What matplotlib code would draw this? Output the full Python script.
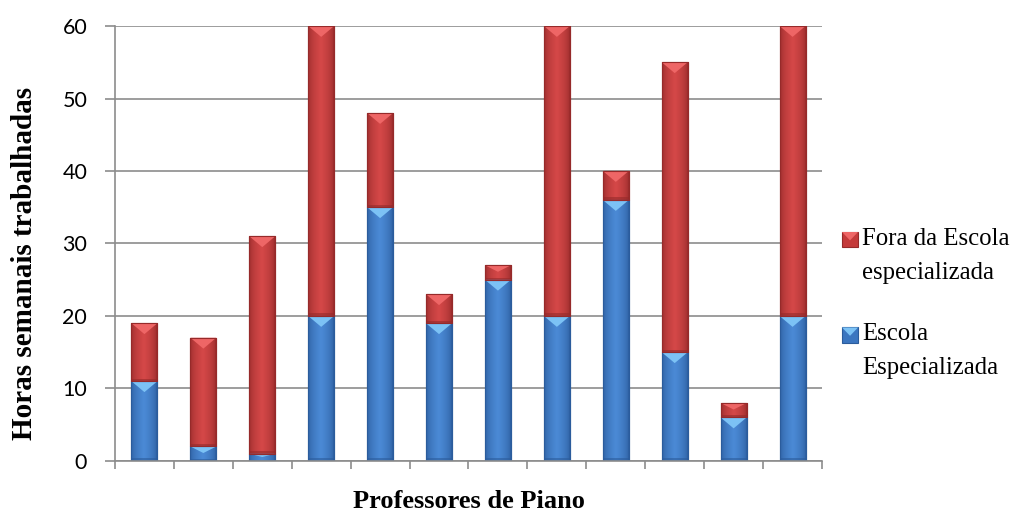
import numpy as np
import matplotlib
matplotlib.use("Agg")
import matplotlib.pyplot as plt
from matplotlib.patches import Rectangle, Polygon
from matplotlib.legend_handler import HandlerBase
from matplotlib.colors import to_rgb

# ---- data -------------------------------------------------------------
professores = list(range(1, 13))
escola_especializada = [11, 2, 1, 20, 35, 19, 25, 20, 36, 15, 6, 20]
fora_da_escola = [8, 15, 30, 40, 13, 4, 2, 40, 4, 40, 2, 40]
serie_labels = ["Fora da Escola\nespecializada", "Escola\nEspecializada"]
y_ticks = [0, 10, 20, 30, 40, 50, 60]

# ---- style ------------------------------------------------------------
BLUE = dict(edge="#2b5c9c", mid="#4b8ad6", top="#7cc2f5", base="#3b76c0")
RED = dict(edge="#962a2a", mid="#d54848", top="#ee6666", base="#c43a3a")
GRID = "#8c8c8c"
SERIF = "Liberation Serif"
LEGEND_SIZE = 17.8
LEGEND_LINESPACING = 1.70
HANDLE_LIFT = 11.6  # points, puts the legend square beside the first label line


def bevel(ax, patch, pal):
    """Shade a bar segment with a bevelled look."""
    x0, y0 = patch.get_x(), patch.get_y()
    w, h = patch.get_width(), patch.get_height()
    t = np.linspace(0, 1, 64)
    k = np.sqrt(1 - np.abs(2 * t - 1))
    c_edge = np.array(to_rgb(pal["edge"]))
    c_mid = np.array(to_rgb(pal["mid"]))
    img = c_edge[None, None, :] + (c_mid - c_edge)[None, None, :] * k[None, :, None]
    im = ax.imshow(img, extent=(x0, x0 + w, y0, y0 + h), aspect="auto",
                   interpolation="bilinear", zorder=2.1)
    im.set_clip_path(patch)
    d = min(1.5, 0.45 * h)
    ax.add_patch(Polygon([(x0, y0 + h), (x0 + w, y0 + h), (x0 + w / 2, y0 + h - d)],
                         closed=True, facecolor=pal["top"], edgecolor="none", zorder=2.2))
    b = min(0.35, 0.15 * h)
    ax.add_patch(Rectangle((x0, y0), w, b, facecolor=pal["edge"], edgecolor="none",
                           alpha=0.6, zorder=2.2))
    ax.add_patch(Rectangle((x0, y0), w, h, fill=False, edgecolor=pal["edge"],
                           lw=0.8, zorder=2.3))


class BevelSquare(HandlerBase):
    """Small bevelled square, aligned with the first line of the label."""

    def __init__(self, pal, lift):
        super().__init__()
        self.pal = pal
        self.lift = lift

    def _update_prop(self, legend_handle, orig_handle):
        pass

    def create_artists(self, legend, orig_handle, xdescent, ydescent,
                       width, height, fontsize, trans):
        x = -xdescent
        y = -ydescent + self.lift
        rect = Rectangle((x, y), width, height, facecolor=self.pal["base"],
                         edgecolor=self.pal["edge"], lw=0.8, transform=trans)
        tri = Polygon([(x, y + height), (x + width, y + height),
                       (x + width / 2, y + height * 0.45)], closed=True,
                      facecolor=self.pal["top"], edgecolor="none", transform=trans)
        return [rect, tri]


fig = plt.figure(figsize=(10.21, 5.13), dpi=100)
ax = fig.add_axes([0.1126, 0.1014, 0.6925, 0.8479])

bars_b = ax.bar(professores, escola_especializada, width=0.44,
                color=BLUE["base"], edgecolor=BLUE["edge"], linewidth=0.8, zorder=2)
bars_r = ax.bar(professores, fora_da_escola, bottom=escola_especializada, width=0.44,
                color=RED["base"], edgecolor=RED["edge"], linewidth=0.8, zorder=2)
for p in bars_b.patches:
    bevel(ax, p, BLUE)
for p in bars_r.patches:
    bevel(ax, p, RED)

ax.set_xlim(0.5, 12.5)
ax.set_ylim(0, 60)
ax.set_yticks(y_ticks)
ax.set_xticks([])
ax.set_xticks(np.arange(0.5, 13, 1), minor=True)
ax.tick_params(axis="x", which="minor", length=6, width=1.2, color=GRID, direction="out")
ax.tick_params(axis="y", length=7, width=1.2, color=GRID, pad=13, labelsize=15.5)
for lbl in ax.get_yticklabels():
    lbl.set_fontfamily("Lato")
ax.yaxis.grid(True, color=GRID, lw=1.2)
ax.set_axisbelow(True)
for side in ("top", "right"):
    ax.spines[side].set_visible(False)
for side in ("left", "bottom"):
    ax.spines[side].set_color(GRID)
    ax.spines[side].set_linewidth(1.2)

ax.set_ylabel("Horas semanais trabalhadas", fontfamily=SERIF, fontweight="bold", fontsize=21)
ax.yaxis.set_label_coords(-0.109, 0.455)
ax.set_xlabel("Professores de Piano", fontfamily=SERIF, fontweight="bold", fontsize=19)
ax.xaxis.set_label_coords(0.5, -0.0667)

leg = ax.legend([bars_r, bars_b], serie_labels,
                handler_map={bars_r: BevelSquare(RED, HANDLE_LIFT),
                             bars_b: BevelSquare(BLUE, HANDLE_LIFT)},
                loc="upper left", bbox_to_anchor=(842 / 1021, 1 - 228 / 513),
                bbox_transform=fig.transFigure, frameon=False,
                prop=dict(family=SERIF, size=LEGEND_SIZE),
                handlelength=0.65, handleheight=0.57, handletextpad=0.17,
                borderpad=0, borderaxespad=0, labelspacing=1.6)
for t in leg.get_texts():
    t.set_linespacing(LEGEND_LINESPACING)

fig.savefig("out.png", dpi=100)
